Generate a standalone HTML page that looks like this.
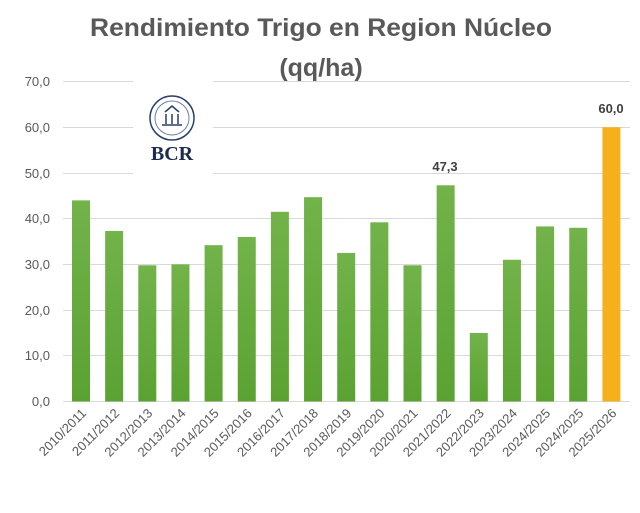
<!DOCTYPE html>
<html><head><meta charset="utf-8"><style>
body{margin:0;background:#fff;}
</style></head><body>
<svg width="640" height="508" viewBox="0 0 640 508" xmlns="http://www.w3.org/2000/svg" font-family="Liberation Sans, sans-serif">
<defs>
<linearGradient id="g" x1="0" y1="0" x2="0" y2="1"><stop offset="0" stop-color="#72b34a"/><stop offset="1" stop-color="#5aa232"/></linearGradient>
</defs>
<text x="321" y="36" text-anchor="middle" font-size="25" font-weight="bold" fill="#595959" textLength="462" lengthAdjust="spacingAndGlyphs">Rendimiento Trigo en Region Núcleo</text>
<text x="321" y="76" text-anchor="middle" font-size="25" font-weight="bold" fill="#595959">(qq/ha)</text>
<g stroke="#d9d9d9" stroke-width="1">
<line x1="63" x2="630" y1="81.5" y2="81.5"/>
<line x1="63" x2="630" y1="127.5" y2="127.5"/>
<line x1="63" x2="630" y1="173.5" y2="173.5"/>
<line x1="63" x2="630" y1="218.5" y2="218.5"/>
<line x1="63" x2="630" y1="264.5" y2="264.5"/>
<line x1="63" x2="630" y1="310.5" y2="310.5"/>
<line x1="63" x2="630" y1="355.5" y2="355.5"/>
<line x1="63" x2="630" y1="401.5" y2="401.5"/>
</g>
<rect x="133" y="78" width="80" height="98" fill="#fff"/>
<g font-size="13" fill="#595959" text-anchor="end">
<text x="50" y="86">70,0</text><text x="50" y="132">60,0</text><text x="50" y="178">50,0</text><text x="50" y="223">40,0</text><text x="50" y="269">30,0</text><text x="50" y="315">20,0</text><text x="50" y="360">10,0</text><text x="50" y="406">0,0</text>
</g>
<circle cx="172" cy="118" r="22" fill="none" stroke="#2a3f6b" stroke-width="1.5"/>
<circle cx="172" cy="118" r="17" fill="none" stroke="#6a7fa8" stroke-width="1"/>
<path d="M162 125 h20 M165 112 l7 -6 l7 6 M166 114 v10 M172 114 v10 M178 114 v10" stroke="#2a3f6b" stroke-width="1.5" fill="none"/>
<text x="172" y="160" text-anchor="middle" font-family="Liberation Serif, serif" font-size="20" font-weight="bold" fill="#1c2b50">BCR</text>
<g id="bars"></g>
<g font-size="13" font-weight="bold" fill="#404040" text-anchor="middle">
<text x="445" y="171">47,3</text>
<text x="611" y="113">60,0</text>
</g>
<g id="labels" font-size="13" fill="#595959"></g>
<script>
var v=[44,37.3,29.8,30.0,34.2,36.0,41.5,44.7,32.5,39.2,29.8,47.3,15.0,31.0,38.3,38.0,60.0];
var l=["2010/2011","2011/2012","2012/2013","2013/2014","2014/2015","2015/2016","2016/2017","2017/2018","2018/2019","2019/2020","2020/2021","2021/2022","2022/2023","2023/2024","2024/2025","2024/2025","2025/2026"];
var b=document.getElementById('bars'),t=document.getElementById('labels'),ns="http://www.w3.org/2000/svg";
for(var i=0;i<17;i++){var cx=81+i*33.15,h=v[i]*4.571;
var r=document.createElementNS(ns,'rect');r.setAttribute('x',cx-9);r.setAttribute('y',401.5-h);r.setAttribute('width',18);r.setAttribute('height',h);r.setAttribute('fill',i==16?'#f5b01c':'url(#g)');b.appendChild(r);
var tx=document.createElementNS(ns,'text');tx.setAttribute('text-anchor','end');tx.setAttribute('transform','translate('+(cx+6)+',414) rotate(-45)');tx.textContent=l[i];t.appendChild(tx);}
</script>
</svg>
</body></html>
